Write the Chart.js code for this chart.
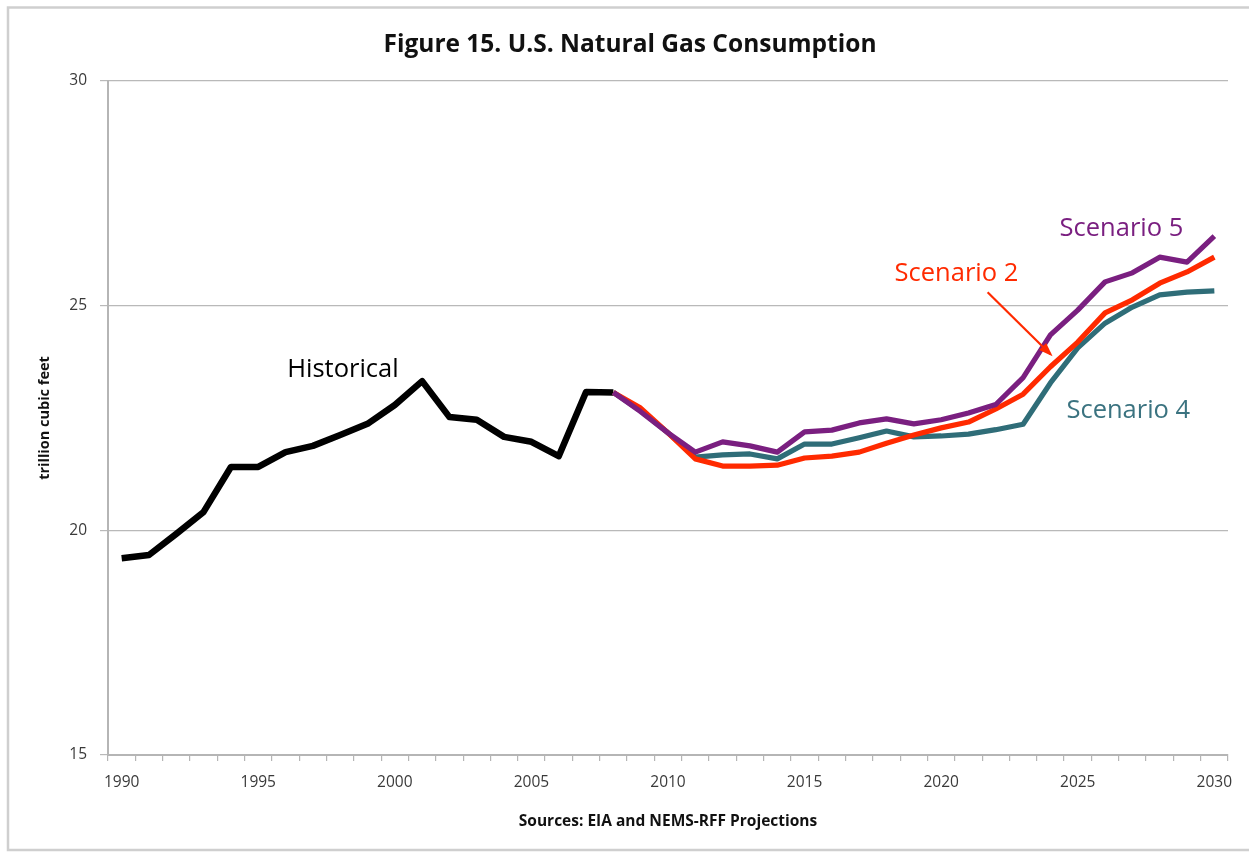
<!DOCTYPE html>
<html>
<head>
<meta charset="utf-8">
<style>
  html, body { margin: 0; padding: 0; background: #ffffff; overflow: hidden; }
  canvas { display: block; }
</style>
<script src="https://cdn.jsdelivr.net/npm/chart.js@4/dist/chart.umd.min.js"></script>
</head>
<body>
<canvas id="c" width="1249" height="852"></canvas>
<script>
// ---- data ----
const years = [];
for (let y = 1990; y <= 2030; y++) years.push(String(y));

const historical = [19.38, 19.45, 19.92, 20.41, 21.41, 21.41, 21.74, 21.88, 22.12, 22.37,
                    22.79, 23.32, 22.52, 22.46, 22.08, 21.97, 21.65, 23.08, 23.07];

const scenario2 = [23.07, 22.72, 22.17, 21.59, 21.43, 21.43, 21.45, 21.61, 21.65, 21.74,
                   21.94, 22.12, 22.28, 22.41, 22.70, 23.03, 23.64, 24.19, 24.84, 25.13,
                   25.50, 25.75, 26.08];
const scenario4 = [23.07, 22.66, 22.17, 21.63, 21.68, 21.70, 21.59, 21.92, 21.92, 22.06,
                   22.21, 22.08, 22.10, 22.14, 22.24, 22.36, 23.28, 24.06, 24.61, 24.97,
                   25.24, 25.30, 25.33];
const scenario5 = [23.07, 22.64, 22.17, 21.74, 21.97, 21.88, 21.74, 22.19, 22.23, 22.39,
                   22.48, 22.37, 22.46, 22.61, 22.80, 23.40, 24.35, 24.90, 25.53, 25.73,
                   26.08, 25.97, 26.55];

const yTicks = [15, 20, 25, 30];

// ---- helpers ----
function padHist(arr) { const out = years.map(() => null); arr.forEach((v, i) => out[i] = v); return out; }
function padProj(arr) { const out = years.map(() => null); const start = years.indexOf('2008'); arr.forEach((v, i) => out[start + i] = v); return out; }

const FONT = '"Open Sans", "Liberation Sans", sans-serif';
const C_PURPLE = '#7a1f80', C_RED = '#ff2a00', C_TEAL = '#2f6d78', C_TEAL_TXT = '#3b7380';

// annotation labels positioned in data space (category index, value)
const notes = [
  { text: 'Historical', x: 8.1, y: 23.57, color: '#000000' },
  { text: 'Scenario 5', x: 36.6, y: 26.71, color: C_PURPLE },
  { text: 'Scenario 2', x: 30.56, y: 25.71, color: C_RED },
  { text: 'Scenario 4', x: 36.85, y: 22.66, color: C_TEAL_TXT }
];
const arrow = { x1: 31.7, y1: 25.30, x2: 34.0, y2: 23.92, color: C_RED };

const decor = {
  id: 'decor',
  beforeDraw(chart) {
    const ctx = chart.ctx;
    ctx.save();
    ctx.fillStyle = '#ffffff';
    ctx.fillRect(0, 0, chart.width, chart.height);
    ctx.strokeStyle = '#cfcfcf';
    ctx.lineWidth = 2.5;
    ctx.beginPath();
    ctx.moveTo(chart.width, 7.5); ctx.lineTo(8, 7.5); ctx.lineTo(8, 850); ctx.lineTo(chart.width, 850);
    ctx.stroke();
    ctx.restore();
  },
  afterDatasetsDraw(chart) {
    const ctx = chart.ctx, xs = chart.scales.x, ys = chart.scales.y;
    ctx.save();
    ctx.font = '25.5px ' + FONT;
    ctx.textAlign = 'center';
    ctx.textBaseline = 'middle';
    notes.forEach(n => {
      ctx.fillStyle = n.color;
      ctx.fillText(n.text, xs.getPixelForValue(n.x), ys.getPixelForValue(n.y));
    });
    // arrow
    const x1 = xs.getPixelForValue(arrow.x1), y1 = ys.getPixelForValue(arrow.y1);
    const x2 = xs.getPixelForValue(arrow.x2), y2 = ys.getPixelForValue(arrow.y2);
    ctx.strokeStyle = arrow.color; ctx.fillStyle = arrow.color;
    ctx.lineWidth = 2.2;
    ctx.beginPath(); ctx.moveTo(x1, y1); ctx.lineTo(x2, y2); ctx.stroke();
    const ang = Math.atan2(y2 - y1, x2 - x1), L = 11, W = 5;
    ctx.beginPath();
    ctx.moveTo(x2 + Math.cos(ang) * 3, y2 + Math.sin(ang) * 3);
    ctx.lineTo(x2 - Math.cos(ang) * L + Math.sin(ang) * W, y2 - Math.sin(ang) * L - Math.cos(ang) * W);
    ctx.lineTo(x2 - Math.cos(ang) * L - Math.sin(ang) * W, y2 - Math.sin(ang) * L + Math.cos(ang) * W);
    ctx.closePath(); ctx.fill();
    ctx.restore();
  }
};

const lineStyle = (color, width) => ({
  borderColor: color, backgroundColor: color, borderWidth: width,
  pointRadius: 0, pointHoverRadius: 0, tension: 0, fill: false,
  borderJoinStyle: 'round', borderCapStyle: 'butt', spanGaps: false
});

new Chart(document.getElementById('c'), {
  type: 'line',
  data: {
    labels: years,
    datasets: [
      Object.assign({ label: 'Historical', data: padHist(historical), order: 4 }, lineStyle('#000000', 6.5)),
      Object.assign({ label: 'Scenario 4', data: padProj(scenario4), order: 3 }, lineStyle(C_TEAL, 5.2)),
      Object.assign({ label: 'Scenario 2', data: padProj(scenario2), order: 2 }, lineStyle(C_RED, 5.2)),
      Object.assign({ label: 'Scenario 5', data: padProj(scenario5), order: 1 }, lineStyle(C_PURPLE, 5.2))
    ]
  },
  options: {
    responsive: false,
    animation: false,
    layout: { padding: { left: 32, top: 0, right: 21, bottom: 0 } },
    plugins: {
      legend: { display: false },
      tooltip: { enabled: false },
      title: {
        display: true,
        text: 'Figure 15. U.S. Natural Gas Consumption',
        color: '#111111',
        font: { family: FONT, size: 24.5, weight: 'bold' },
        padding: { top: 30.3, bottom: 21.3 }
      }
    },
    scales: {
      x: {
        type: 'category',
        offset: true,
        grid: { display: true, offset: true, drawOnChartArea: false, drawTicks: true, tickLength: 6, color: '#b5b5b5', lineWidth: 1.2 },
        border: { display: true, color: '#b5b5b5', width: 2 },
        ticks: {
          autoSkip: false, maxRotation: 0, minRotation: 0, padding: 12,
          color: '#3a3a3a', font: { family: FONT, size: 15.5 },
          callback: function (v, i) { const y = years[i]; return (Number(y) % 5 === 0) ? y : ''; }
        },
        title: {
          display: true, text: 'Sources: EIA and NEMS-RFF Projections', color: '#111111',
          font: { family: FONT, size: 15.5, weight: 'bold' }, padding: { top: 0, bottom: 20.7 }
        },
        afterFit(scale) { scale.height = 97; }
      },
      y: {
        min: 15, max: 30,
        afterBuildTicks(scale) { scale.ticks = yTicks.map(v => ({ value: v })); },
        grid: { color: '#b9b9b9', lineWidth: 1.2, drawTicks: true, tickLength: 8 },
        border: { display: true, color: '#b5b5b5', width: 2 },
        ticks: { padding: 13, color: '#3a3a3a', font: { family: FONT, size: 15.5 } },
        title: {
          display: true, text: 'trillion cubic feet', color: '#111111',
          font: { family: FONT, size: 14.5, weight: 'bold' }, padding: { top: 4.3, bottom: 0 }
        },
        afterFit(scale) { scale.width = 76; }
      }
    }
  },
  plugins: [decor]
});
</script>
</body>
</html>
